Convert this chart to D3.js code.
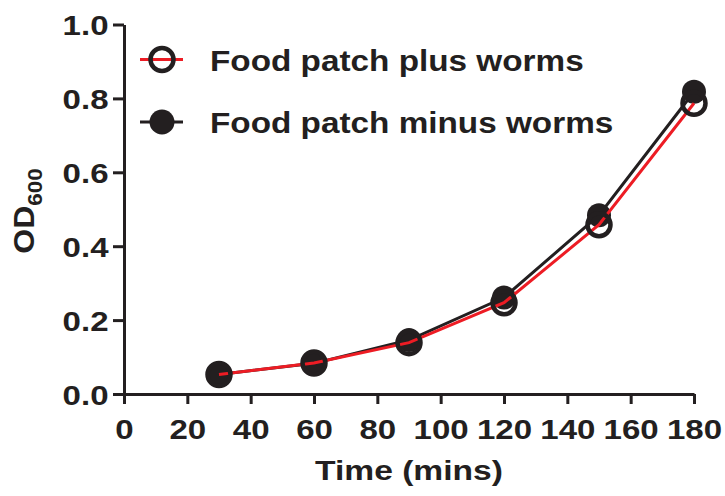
<!DOCTYPE html>
<html lang="en">
<head>
    <meta charset="UTF-8">
    <title>OD600 growth</title>
    <script src="https://d3js.org/d3.v7.min.js"></script>
    <style>
        body { margin: 0; background: #fff; }
        text { font-family: "Liberation Sans", Arial, sans-serif; font-weight: bold; fill: #231f20; }
    </style>
</head>
<body>
<script>
    var times = [30, 60, 90, 120, 150, 180];
    var plusWorms = [0.053, 0.084, 0.139, 0.247, 0.458, 0.787];
    var minusWorms = [0.053, 0.083, 0.146, 0.261, 0.484, 0.818];
    var xTicks = [0, 20, 40, 60, 80, 100, 120, 140, 160, 180];
    var yTicks = [0, 0.2, 0.4, 0.6, 0.8, 1.0];
    var seriesNames = ["Food patch plus worms", "Food patch minus worms"];

    var width = 725, height = 496;
    var dark = "#231f20", red = "#ed1c24";

    var svg = d3.select("body").append("svg")
        .attr("width", width)
        .attr("height", height);

    var x = d3.scaleLinear().domain([0, 180]).range([124, 694]);
    var y = d3.scaleLinear().domain([0, 1]).range([394, 24.5]);

    // stretch tick labels sideways, the original font is wide
    function widen(sel, sx) {
        sel.each(function() {
            var t = d3.select(this);
            var tx = +t.attr("x") || 0;
            t.attr("x", tx / sx).attr("transform", "scale(" + sx + ",1)");
        });
    }

    //y-axis
    var yAxis = svg.append("g")
        .attr("transform", "translate(" + x(0) + ",0)")
        .call(d3.axisLeft(y).tickValues(yTicks).tickFormat(d3.format(".1f"))
            .tickSize(11).tickSizeOuter(0).tickPadding(4.5));
    //x-axis
    var xAxis = svg.append("g")
        .attr("transform", "translate(0," + y(0) + ")")
        .call(d3.axisBottom(x).tickValues(xTicks)
            .tickSize(10).tickSizeOuter(0).tickPadding(15));

    [xAxis, yAxis].forEach(function(g) {
        g.selectAll("path, line").attr("stroke", dark).attr("stroke-width", 3);
        g.selectAll("text").style("font-size", "28px").attr("fill", dark);
        widen(g.selectAll("text"), 1.18);
    });
    yAxis.selectAll("text").attr("dy", "0.36em");

    //axis titles
    svg.append("text")
        .attr("transform", "translate(409,479.5) scale(1.2,1)")
        .attr("text-anchor", "middle")
        .style("font-size", "28px")
        .text("Time (mins)");

    var yTitle = svg.append("text")
        .attr("transform", "translate(33.5,211) rotate(-90) scale(1.07,1)")
        .attr("text-anchor", "middle")
        .style("font-size", "30px");
    yTitle.append("tspan").text("OD");
    yTitle.append("tspan").attr("dy", 8).style("font-size", "21px").text("600");

    //lines and markers
    var minusData = times.map(function(t, i) { return [t, minusWorms[i]]; });
    var plusData = times.map(function(t, i) { return [t, plusWorms[i]]; });
    var line = d3.line().x(function(d) { return x(d[0]); }).y(function(d) { return y(d[1]); });

    svg.append("path").datum(minusData)
        .attr("d", line).attr("fill", "none")
        .attr("stroke", dark).attr("stroke-width", 3);

    svg.selectAll(".filled").data(minusData).enter()
        .append("circle").attr("class", "filled")
        .attr("cx", function(d) { return x(d[0]); })
        .attr("cy", function(d) { return y(d[1]); })
        .attr("r", 12).attr("fill", dark);

    svg.append("path").datum(plusData)
        .attr("d", line).attr("fill", "none")
        .attr("stroke", red).attr("stroke-width", 3);

    svg.selectAll(".open").data(plusData).enter()
        .append("circle").attr("class", "open")
        .attr("cx", function(d) { return x(d[0]); })
        .attr("cy", function(d) { return y(d[1]); })
        .attr("r", 11.5).attr("fill", "none")
        .attr("stroke", dark).attr("stroke-width", 4.5);

    //legend
    var legend = svg.append("g").attr("transform", "translate(140,0)");
    var rows = [59.5, 122];

    legend.append("line").attr("x1", 0).attr("x2", 43).attr("y1", rows[0]).attr("y2", rows[0])
        .attr("stroke", red).attr("stroke-width", 3);
    legend.append("circle").attr("cx", 22).attr("cy", rows[0]).attr("r", 11.5)
        .attr("fill", "none").attr("stroke", dark).attr("stroke-width", 4.5);

    legend.append("line").attr("x1", 0).attr("x2", 43).attr("y1", rows[1]).attr("y2", rows[1])
        .attr("stroke", dark).attr("stroke-width", 3);
    legend.append("circle").attr("cx", 22).attr("cy", rows[1]).attr("r", 12.5).attr("fill", dark);

    seriesNames.forEach(function(name, i) {
        legend.append("text")
            .attr("transform", "translate(70," + (rows[i] + 11) + ") scale(1.11,1)")
            .style("font-size", "30px")
            .text(name);
    });
</script>
</body>
</html>
